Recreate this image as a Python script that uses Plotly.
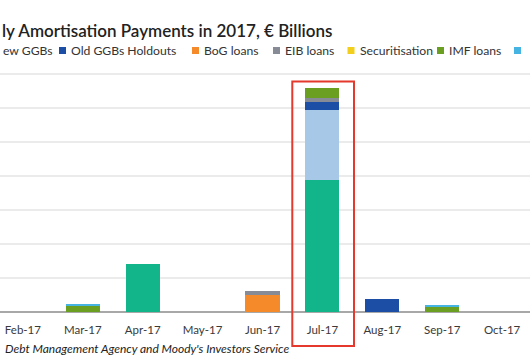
import plotly.graph_objects as go

# ---- data (€ billions) ----
months = ["Feb-17", "Mar-17", "Apr-17", "May-17", "Jun-17", "Jul-17", "Aug-17", "Sep-17", "Oct-17"]
ecb_ggbs = [0, 0, 1.41, 0, 0, 3.90, 0, 0, 0]
new_ggbs = [0, 0, 0, 0, 0, 2.06, 0, 0, 0]
old_ggbs_holdouts = [0, 0, 0, 0, 0, 0.21, 0.37, 0, 0]
bog_loans = [0, 0, 0, 0, 0.49, 0, 0, 0, 0]
eib_loans = [0, 0, 0, 0, 0.13, 0.14, 0, 0, 0]
securitisation = [0, 0, 0, 0, 0, 0, 0, 0, 0]
imf_loans = [0, 0.20, 0, 0, 0, 0.29, 0, 0.17, 0]
other_loans = [0, 0.05, 0, 0, 0, 0, 0, 0.05, 0]

series = [
    ("ECB/NCB GGBs", ecb_ggbs, "#12b58a"),
    ("New GGBs", new_ggbs, "#a8c8e8"),
    ("Old GGBs Holdouts", old_ggbs_holdouts, "#1d4ea6"),
    ("BoG loans", bog_loans, "#f58a2a"),
    ("EIB loans", eib_loans, "#878b96"),
    ("Securitisation", securitisation, "#f2cf1d"),
    ("IMF loans", imf_loans, "#6a9f22"),
    ("Other loans", other_loans, "#45b4e3"),
]

# visible part of the (cropped) title / legend / source in the reference
title_text = "ly Amortisation Payments in 2017, € Billions"
source_text = "Debt Management Agency and Moody's Investors Service"

W, H = 530, 355
FONT = "Lato"
fig = go.Figure()
for name, vals, col in series:
    fig.add_trace(go.Bar(x=months, y=vals, name=name, marker=dict(color=col, line=dict(width=0)),
                         showlegend=False))

# plot geometry (pixels)
step = 59.9
first_center = 22.9
plot_top, plot_bot = 63.5, 311.7
ymax = 7.3

fig.update_layout(
    width=W, height=H,
    margin=dict(l=0, r=0, t=plot_top, b=H - plot_bot, pad=0),
    barmode="stack", bargap=0.432,
    plot_bgcolor="white", paper_bgcolor="white",
    font=dict(family=FONT, size=12, color="#333333"),
    xaxis=dict(range=[-first_center / step, (W - first_center) / step], showgrid=False,
               showline=False, ticks="", ticklabelstandoff=9,
               tickfont=dict(size=11.5, color="#3a3a3a"), fixedrange=True),
    yaxis=dict(range=[0, ymax], dtick=1, showgrid=True, gridcolor="#ebebeb", gridwidth=2,
               zeroline=True, zerolinecolor="#a8a8a8", zerolinewidth=2,
               showticklabels=False, ticks="", fixedrange=True),
)

def px_x(p):
    return p / W

def px_y(p):
    return (plot_bot - p) / (plot_bot - plot_top)

# title
fig.add_annotation(text=title_text, xref="paper", yref="paper",
                   x=px_x(0), y=px_y(30), xanchor="left", yanchor="middle", showarrow=False,
                   font=dict(family=FONT, size=17, color="#222222", weight=600))

# legend row built from series names/colours (only the part visible in the crop)
legend_items = {  # name: (text or None, text left x)
    "New GGBs": ("ew GGBs", 0.5),
    "Old GGBs Holdouts": ("Old GGBs Holdouts", 69),
    "BoG loans": ("BoG loans", 202),
    "EIB loans": ("EIB loans", 283),
    "Securitisation": ("Securitisation", 357.5),
    "IMF loans": ("IMF loans", 447),
    "Other loans": (None, 524),
}
ly = 50
msz = 7
for name, vals, col in series:
    if name not in legend_items:
        continue
    txt, tx = legend_items[name]
    if name != "New GGBs":
        mx = tx - 3 - msz
        fig.add_shape(type="rect", xref="paper", yref="paper", x0=px_x(mx), x1=px_x(mx + msz),
                      y0=px_y(ly + msz / 2), y1=px_y(ly - msz / 2), fillcolor=col,
                      line=dict(width=0), layer="above")
    if txt is not None:
        fig.add_annotation(text=txt, xref="paper", yref="paper", x=px_x(tx), y=px_y(ly),
                           xanchor="left", yanchor="middle", showarrow=False,
                           font=dict(family=FONT, size=12.2, color="#333333"))

# source line
fig.add_annotation(text="<i>" + source_text + "</i>",
                   xref="paper", yref="paper", x=px_x(2.5), y=px_y(348), xanchor="left",
                   yanchor="middle", showarrow=False, font=dict(family=FONT, size=12, color="#222222"))

# red highlight box around July
fig.add_shape(type="rect", xref="paper", yref="paper", x0=px_x(292.3), x1=px_x(354),
              y0=px_y(345.7), y1=px_y(81), line=dict(color="#e4392c", width=2), fillcolor="rgba(0,0,0,0)",
              layer="above")

fig.write_html("out.html", config={"displayModeBar": False},
               post_script="document.body.style.margin='0';")
